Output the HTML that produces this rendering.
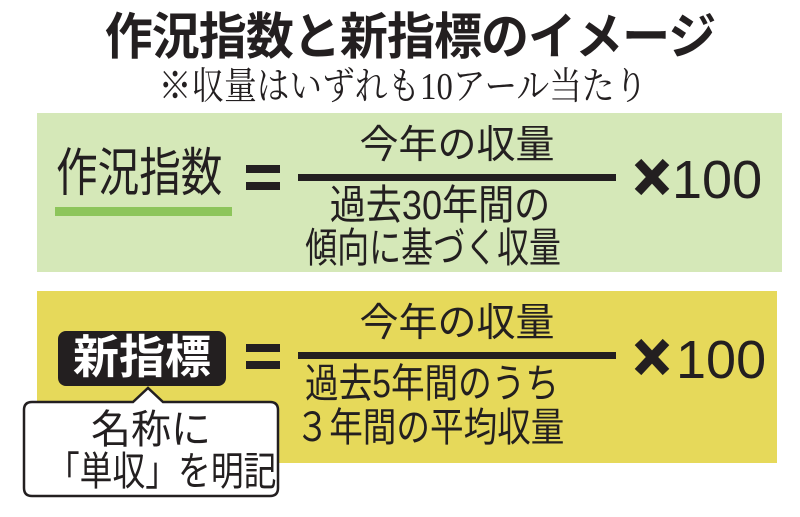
<!DOCTYPE html>
<html><head><meta charset="utf-8"><style>
body{margin:0;width:800px;height:517px;background:#fff;position:relative;overflow:hidden;font-family:"Liberation Sans","Noto Sans CJK JP",sans-serif;color:#231f20}
.a{position:absolute;white-space:nowrap;line-height:1}
.c{text-align:center}
</style></head><body>
<div class="a c" style="left:0;width:820px;top:12px;font-size:50px;font-weight:bold;letter-spacing:-1px;transform:scaleX(0.96)">作況指数と新指標のイメージ</div>
<div class="a c" style="left:0;width:806px;top:68px;font-size:38px;font-family:'Liberation Serif','Noto Serif CJK SC',serif;transform:scaleX(0.86)">※収量はいずれも10アール当たり</div>

<div class="a" style="left:37px;top:113px;width:745px;height:159px;background:#d5e8b8"></div>
<div class="a" style="left:56px;top:148px;font-size:52px;transform:scaleX(0.8);transform-origin:left">作況指数</div>
<div class="a" style="left:55px;top:207px;width:177px;height:9px;background:#8dc55b"></div>
<div class="a" style="left:246px;top:165px;width:34px;height:8px;background:#231f20"></div>
<div class="a" style="left:246px;top:182px;width:34px;height:8px;background:#231f20"></div>
<div class="a" style="left:298px;top:174px;width:318px;height:7px;background:#231f20"></div>
<div class="a c" style="left:298px;width:318px;top:126px;font-size:39px">今年の収量</div>
<div class="a c" style="left:280px;width:320px;top:185px;font-size:41px;transform:scaleX(0.88)">過去30年間の</div>
<div class="a c" style="left:270px;width:320px;top:228px;font-size:41px;transform:scaleX(0.78)">傾向に基づく収量</div>
<div class="a" style="left:672px;top:153px;font-size:54px">100</div>

<div class="a" style="left:37px;top:291px;width:740px;height:172px;background:#e6d95a"></div>
<div class="a" style="left:58px;top:331px;width:168px;height:55px;background:#231f20;border-radius:8px"></div>
<div class="a c" style="left:58px;width:168px;top:334px;font-size:46px;color:#fff;font-weight:bold">新指標</div>
<div class="a" style="left:246px;top:344px;width:34px;height:8px;background:#231f20"></div>
<div class="a" style="left:246px;top:361px;width:34px;height:8px;background:#231f20"></div>
<div class="a" style="left:298px;top:352px;width:318px;height:7px;background:#231f20"></div>
<div class="a c" style="left:298px;width:318px;top:304px;font-size:39px">今年の収量</div>
<div class="a c" style="left:272px;width:320px;top:364px;font-size:40px;transform:scaleX(0.84)">過去5年間のうち</div>
<div class="a c" style="left:270px;width:320px;top:408px;font-size:40px;transform:scaleX(0.84)">３年間の平均収量</div>
<div class="a" style="left:676px;top:333px;font-size:54px">100</div>

<svg class="a" style="left:0;top:0" width="800" height="517">
<g stroke="#231f20" stroke-width="9" stroke-linecap="butt">
<path d="M638,162 L666,192 M666,162 L638,192"/>
<path d="M638,342 L666,372 M666,342 L638,372"/>
</g>
<path d="M32,402 H133 L148,388 L163,402 H270 Q278,402 278,410 V488 Q278,496 270,496 H32 Q24,496 24,488 V410 Q24,402 32,402 Z" fill="#fff" stroke="#231f20" stroke-width="2.5"/>
</svg>
<div class="a c" style="left:24px;width:254px;top:410px;font-size:40px">名称に</div>
<div class="a c" style="left:24px;width:254px;top:452px;font-size:40px;transform:scaleX(0.82)">「単収」を明記</div>
</body></html>
